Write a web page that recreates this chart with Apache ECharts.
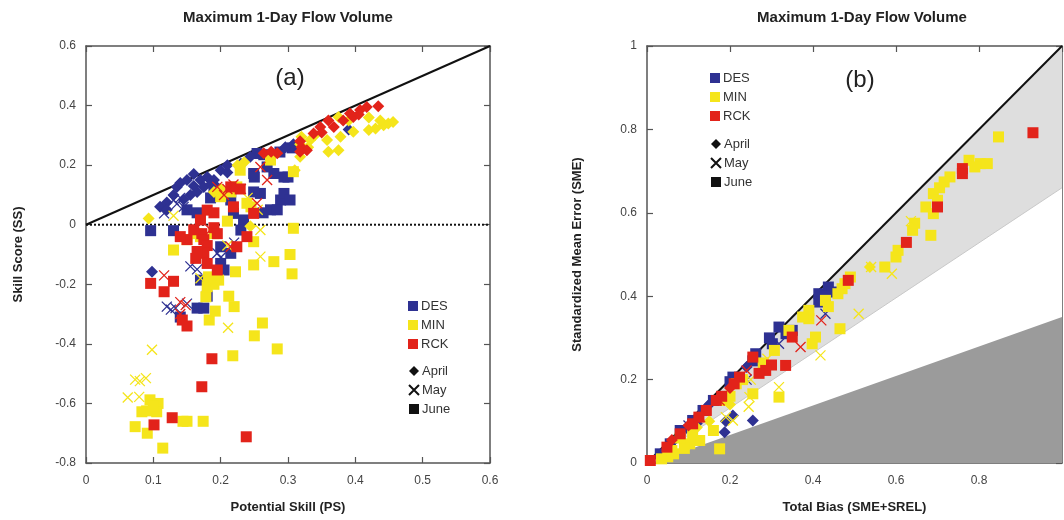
<!DOCTYPE html>
<html>
<head>
<meta charset="utf-8">
<script src="https://cdn.jsdelivr.net/npm/echarts@6/dist/echarts.min.js"></script>
<style>
  html, body { margin: 0; padding: 0; background: #fff; }
  #chart { width: 1064px; height: 520px; }
</style>
</head>
<body>
<div id="chart"></div>
<script>
// panel (a): [potential skill, skill score]
var aDesJun = [[0.096,-0.02],[0.13,-0.02],[0.289,0.083],[0.294,0.105],[0.274,0.05],[0.259,0.105],[0.249,0.11],[0.294,0.16],[0.30,0.16],[0.279,0.172],[0.269,0.194],[0.254,0.239],[0.264,0.235],[0.249,0.172],[0.215,0.083],[0.219,0.038],[0.234,0.016],[0.2,-0.074],[0.215,-0.096],[0.205,-0.152],[0.17,-0.186],[0.18,-0.24],[0.165,-0.28],[0.175,-0.28],[0.14,-0.31],[0.2,-0.13],[0.23,-0.018],[0.15,0.05],[0.165,0.04],[0.19,0.12],[0.205,0.1],[0.185,0.09],[0.25,0.16],[0.288,0.244],[0.306,0.258],[0.303,0.083],[0.284,0.05],[0.263,0.04]];
var aDesApr = [[0.098,-0.158],[0.11,0.06],[0.12,0.075],[0.13,0.1],[0.135,0.127],[0.14,0.14],[0.15,0.15],[0.16,0.13],[0.17,0.15],[0.18,0.16],[0.19,0.15],[0.175,0.127],[0.195,0.125],[0.2,0.183],[0.21,0.175],[0.23,0.205],[0.244,0.228],[0.259,0.24],[0.276,0.241],[0.296,0.26],[0.308,0.27],[0.39,0.32],[0.155,0.1],[0.165,0.11],[0.145,0.085],[0.185,0.135],[0.12,0.05],[0.16,0.17],[0.21,0.2]];
var aDesMay = [[0.116,0.038],[0.13,0.083],[0.135,0.07],[0.14,0.09],[0.12,-0.275],[0.126,-0.285],[0.133,-0.28],[0.15,-0.265],[0.155,-0.14],[0.195,-0.096],[0.2,-0.11],[0.165,-0.15],[0.145,0.06],[0.22,-0.06]];
var aMinJun = [[0.095,-0.588],[0.107,-0.6],[0.083,-0.628],[0.09,-0.625],[0.105,-0.628],[0.1,-0.61],[0.073,-0.678],[0.091,-0.7],[0.114,-0.75],[0.144,-0.66],[0.15,-0.66],[0.174,-0.66],[0.218,-0.44],[0.284,-0.417],[0.25,-0.373],[0.262,-0.33],[0.22,-0.275],[0.212,-0.24],[0.183,-0.32],[0.192,-0.29],[0.178,-0.242],[0.18,-0.208],[0.182,-0.175],[0.197,-0.186],[0.222,-0.158],[0.249,-0.135],[0.279,-0.124],[0.303,-0.1],[0.306,-0.165],[0.308,-0.012],[0.249,-0.057],[0.13,-0.085],[0.15,-0.05],[0.165,-0.03],[0.19,-0.03],[0.21,0.012],[0.239,0.072],[0.245,0.06],[0.224,0.127],[0.2,0.094],[0.215,0.11],[0.229,0.183],[0.274,0.217],[0.308,0.178],[0.19,-0.2],[0.17,-0.04]];
var aMinApr = [[0.093,0.021],[0.244,-0.005],[0.36,0.245],[0.375,0.25],[0.358,0.284],[0.378,0.295],[0.397,0.312],[0.42,0.318],[0.43,0.323],[0.442,0.334],[0.449,0.34],[0.456,0.345],[0.437,0.35],[0.42,0.36],[0.318,0.228],[0.31,0.183],[0.39,0.35],[0.375,0.362],[0.32,0.295],[0.333,0.284],[0.318,0.27],[0.34,0.3],[0.33,0.26],[0.225,0.2],[0.235,0.21],[0.19,0.11],[0.2,0.12]];
var aMinMay = [[0.098,-0.42],[0.073,-0.52],[0.08,-0.525],[0.089,-0.515],[0.062,-0.58],[0.079,-0.578],[0.211,-0.346],[0.259,-0.018],[0.259,-0.107],[0.19,-0.19],[0.17,-0.18],[0.13,0.03],[0.24,0.09],[0.255,0.05],[0.21,-0.07]];
var aRckJun = [[0.101,-0.672],[0.128,-0.648],[0.238,-0.712],[0.172,-0.544],[0.187,-0.45],[0.096,-0.197],[0.116,-0.225],[0.13,-0.19],[0.143,-0.32],[0.15,-0.34],[0.15,-0.05],[0.16,-0.017],[0.17,0.016],[0.172,-0.03],[0.175,-0.05],[0.18,-0.07],[0.175,-0.096],[0.163,-0.113],[0.18,-0.13],[0.195,-0.152],[0.19,-0.01],[0.195,-0.03],[0.18,0.049],[0.19,0.04],[0.219,0.06],[0.215,0.127],[0.229,0.12],[0.239,-0.04],[0.249,0.038],[0.224,-0.074],[0.165,-0.09],[0.14,-0.04]];
var aRckApr = [[0.264,0.24],[0.284,0.24],[0.32,0.26],[0.328,0.25],[0.338,0.306],[0.348,0.328],[0.36,0.35],[0.382,0.35],[0.397,0.362],[0.407,0.385],[0.417,0.395],[0.434,0.398],[0.392,0.373],[0.368,0.328],[0.318,0.28],[0.318,0.245],[0.35,0.31],[0.405,0.37],[0.275,0.245]];
var aRckMay = [[0.116,-0.17],[0.14,-0.26],[0.148,-0.27],[0.195,0.127],[0.21,0.12],[0.219,0.135],[0.259,0.194],[0.269,0.15],[0.254,0.072],[0.23,0.12],[0.215,-0.074],[0.185,-0.017],[0.14,-0.3],[0.205,0.1]];

// panel (b): [total bias, standardized mean error]
var bDesJun = [[0.437,0.422],[0.414,0.406],[0.414,0.386],[0.445,0.41],[0.35,0.318],[0.318,0.326],[0.302,0.286],[0.295,0.3],[0.262,0.262],[0.255,0.245],[0.207,0.206],[0.2,0.195],[0.16,0.15],[0.135,0.126],[0.11,0.102],[0.08,0.078],[0.056,0.046],[0.032,0.022],[0.335,0.31],[0.43,0.4]];
var bDesApr = [[0.255,0.102],[0.187,0.074],[0.207,0.114],[0.19,0.1],[0.12,0.095],[0.09,0.08],[0.06,0.05],[0.24,0.23],[0.15,0.14]];
var bDesMay = [[0.318,0.286],[0.43,0.358],[0.24,0.2],[0.13,0.11],[0.1,0.09]];
var bMinJun = [[0.847,0.782],[0.776,0.726],[0.803,0.718],[0.82,0.718],[0.79,0.71],[0.73,0.686],[0.716,0.674],[0.705,0.66],[0.69,0.646],[0.7,0.63],[0.672,0.614],[0.69,0.598],[0.684,0.546],[0.64,0.558],[0.645,0.575],[0.6,0.494],[0.605,0.51],[0.573,0.47],[0.49,0.446],[0.477,0.43],[0.47,0.418],[0.46,0.406],[0.43,0.39],[0.437,0.375],[0.465,0.322],[0.406,0.302],[0.398,0.286],[0.39,0.346],[0.39,0.366],[0.375,0.35],[0.342,0.318],[0.307,0.27],[0.318,0.158],[0.255,0.166],[0.215,0.19],[0.19,0.15],[0.2,0.16],[0.16,0.078],[0.175,0.034],[0.127,0.054],[0.103,0.046],[0.09,0.035],[0.064,0.022],[0.05,0.015],[0.035,0.01],[0.08,0.06],[0.06,0.03],[0.28,0.24],[0.23,0.2],[0.11,0.07]];
var bMinApr = [[0.537,0.47],[0.2,0.14],[0.15,0.1],[0.12,0.085]];
var bMinMay = [[0.54,0.47],[0.59,0.454],[0.51,0.358],[0.418,0.258],[0.318,0.182],[0.247,0.158],[0.245,0.135],[0.207,0.102],[0.19,0.11],[0.636,0.58],[0.25,0.2],[0.29,0.25]];
var bRckJun = [[0.93,0.792],[0.76,0.706],[0.76,0.694],[0.7,0.614],[0.625,0.529],[0.485,0.438],[0.35,0.302],[0.334,0.234],[0.3,0.235],[0.286,0.222],[0.255,0.254],[0.223,0.206],[0.21,0.19],[0.167,0.15],[0.143,0.126],[0.11,0.094],[0.08,0.07],[0.048,0.038],[0.008,0.006],[0.27,0.215],[0.18,0.16],[0.125,0.11]];
var bRckApr = [[0.1,0.09],[0.06,0.055],[0.2,0.18]];
var bRckMay = [[0.37,0.278],[0.42,0.342],[0.24,0.222],[0.175,0.15],[0.128,0.11]];

// reference lines / shaded regions
var aOneToOne = [[0, 0], [0.6, 0.6]];
var aZero = [[0, 0], [0.6, 0]];
var bOneToOne = [[0, 0], [1, 1]];
var bBandLower = [[0, 0], [1, 0.66]];
var bDarkEdge = [[0.01, 0], [1, 0.35]];

var sites = ['DES', 'MIN', 'RCK'];
var siteColors = { DES: '#2e3192', MIN: '#f5e51b', RCK: '#e2231a' };
var months = ['April', 'May', 'June'];

var CROSS = 'path://M0,0L10,10M10,0L0,10';
var FONT = 'Liberation Sans';

function scatter(name, month, data, idx) {
    var c = siteColors[name];
    var s = {
        name: name, type: 'scatter', data: data,
        xAxisIndex: idx, yAxisIndex: idx, z: 3, silent: true
    };
    if (month == 'June') {
        s.symbol = 'rect'; s.symbolSize = 11;
        s.itemStyle = { color: c, opacity: 1 };
    } else if (month == 'April') {
        s.symbol = 'diamond'; s.symbolSize = 12;
        s.itemStyle = { color: c, opacity: 1 };
    } else {
        s.symbol = CROSS; s.symbolSize = 10;
        s.itemStyle = { color: 'rgba(0,0,0,0)', borderColor: c, borderWidth: 1.3, opacity: 1 };
    }
    return s;
}

var series = [];
// panel b shaded areas
series.push({ type: 'line', data: bOneToOne, xAxisIndex: 2, yAxisIndex: 2, symbol: 'none', silent: true, z: 1,
    lineStyle: { color: '#111', width: 2 }, areaStyle: { color: '#dedede', opacity: 1 } });
series.push({ type: 'line', data: bBandLower, xAxisIndex: 2, yAxisIndex: 2, symbol: 'none', silent: true, z: 1,
    lineStyle: { color: '#c8c8c8', width: 1 }, areaStyle: { color: '#ffffff', opacity: 1 } });
series.push({ type: 'line', data: bDarkEdge, xAxisIndex: 2, yAxisIndex: 2, symbol: 'none', silent: true, z: 1,
    lineStyle: { width: 0 }, areaStyle: { color: '#9b9b9b', opacity: 1 } });
// panel a lines
series.push({ type: 'line', data: aOneToOne, xAxisIndex: 0, yAxisIndex: 0, symbol: 'none', silent: true, z: 2,
    lineStyle: { color: '#111', width: 2 } });
series.push({ type: 'line', data: aZero, xAxisIndex: 0, yAxisIndex: 0, symbol: 'none', silent: true, z: 2,
    lineStyle: { color: '#111', width: 2, type: [2, 2] } });

series.push(scatter('DES', 'June', aDesJun, 0));
series.push(scatter('DES', 'April', aDesApr, 0));
series.push(scatter('DES', 'May', aDesMay, 0));
series.push(scatter('MIN', 'June', aMinJun, 0));
series.push(scatter('MIN', 'April', aMinApr, 0));
series.push(scatter('MIN', 'May', aMinMay, 0));
series.push(scatter('RCK', 'June', aRckJun, 0));
series.push(scatter('RCK', 'April', aRckApr, 0));
series.push(scatter('RCK', 'May', aRckMay, 0));

series.push(scatter('DES', 'June', bDesJun, 2));
series.push(scatter('DES', 'April', bDesApr, 2));
series.push(scatter('DES', 'May', bDesMay, 2));
series.push(scatter('MIN', 'June', bMinJun, 2));
series.push(scatter('MIN', 'April', bMinApr, 2));
series.push(scatter('MIN', 'May', bMinMay, 2));
series.push(scatter('RCK', 'June', bRckJun, 2));
series.push(scatter('RCK', 'April', bRckApr, 2));
series.push(scatter('RCK', 'May', bRckMay, 2));

// legend-only month series
series.push({ name: 'April', type: 'scatter', data: [], symbol: 'diamond', itemStyle: { color: '#111', opacity: 1 } });
series.push({ name: 'May', type: 'scatter', data: [], symbol: CROSS, itemStyle: { color: 'rgba(0,0,0,0)', borderColor: '#111', borderWidth: 1.3, opacity: 1 } });
series.push({ name: 'June', type: 'scatter', data: [], symbol: 'rect', itemStyle: { color: '#111', opacity: 1 } });

var axisLine = { show: true, onZero: false, lineStyle: { color: '#555', width: 1.5 } };
var tickIn = { show: true, inside: true, length: 6, lineStyle: { color: '#555', width: 1.2 } };
var lbl = { color: '#444', fontSize: 12, fontFamily: FONT };
var nameStyle = { color: '#222', fontSize: 13, fontWeight: 'bold', fontFamily: FONT };

function xAx(grid, min, max, step, pos, name, gap, hideMax) {
    return {
        type: 'value', gridIndex: grid, min: min, max: max, interval: step, position: pos,
        axisLine: axisLine, axisTick: tickIn, splitLine: { show: false },
        axisLabel: pos == 'bottom' ? Object.assign({ margin: 12, showMaxLabel: !hideMax }, lbl) : { show: false },
        name: name, nameLocation: 'middle', nameGap: gap, nameTextStyle: nameStyle
    };
}
function yAx(grid, min, max, step, pos, name, gap) {
    return {
        type: 'value', gridIndex: grid, min: min, max: max, interval: step, position: pos,
        axisLine: axisLine, axisTick: tickIn, splitLine: { show: false },
        axisLabel: pos == 'left' ? Object.assign({ margin: 10 }, lbl) : { show: false },
        name: name, nameLocation: 'middle', nameGap: gap, nameTextStyle: nameStyle
    };
}

function legend(left, top, names) {
    return {
        orient: 'vertical', left: left, top: top, padding: 0, itemGap: 5,
        itemWidth: 10, itemHeight: 10, selectedMode: false,
        textStyle: { color: '#333', fontSize: 13, fontFamily: FONT, lineHeight: 14, padding: [0, 0, 0, -2] },
        data: names
    };
}
var siteItems = sites.map(function (s) { return { name: s, icon: 'rect' }; });

var option = {
    animation: false,
    grid: [
        { left: 86, top: 46, width: 404, height: 417 },
        { left: 647, top: 46, width: 415, height: 417 }
    ],
    xAxis: [
        xAx(0, 0, 0.6, 0.1, 'bottom', 'Potential Skill (PS)', 38),
        xAx(0, 0, 0.6, 0.1, 'top', '', 0),
        xAx(1, 0, 1, 0.2, 'bottom', 'Total Bias (SME+SREL)', 38, true),
        xAx(1, 0, 1, 0.2, 'top', '', 0)
    ],
    yAxis: [
        yAx(0, -0.8, 0.6, 0.2, 'left', 'Skill Score (SS)', 61),
        yAx(0, -0.8, 0.6, 0.2, 'right', '', 0),
        yAx(1, 0, 1, 0.2, 'left', 'Standardized Mean Error (SME)', 63),
        yAx(1, 0, 1, 0.2, 'right', '', 0)
    ],
    legend: [
        legend(408, 299, siteItems),
        legend(408, 364, months),
        legend(710, 71, siteItems),
        legend(710, 137, months)
    ],
    graphic: [
        { type: 'text', x: 288, y: 18, style: { text: 'Maximum 1-Day Flow Volume', align: 'center', verticalAlign: 'middle', font: 'bold 15px "Liberation Sans"', fill: '#222' } },
        { type: 'text', x: 862, y: 18, style: { text: 'Maximum 1-Day Flow Volume', align: 'center', verticalAlign: 'middle', font: 'bold 15px "Liberation Sans"', fill: '#222' } },
        { type: 'text', x: 290, y: 78, style: { text: '(a)', align: 'center', verticalAlign: 'middle', font: '24px "Liberation Sans"', fill: '#222' } },
        { type: 'text', x: 860, y: 80, style: { text: '(b)', align: 'center', verticalAlign: 'middle', font: '24px "Liberation Sans"', fill: '#222' } }
    ],
    series: series
};

var myChart = echarts.init(document.getElementById('chart'));
myChart.setOption(option);
</script>
</body>
</html>
